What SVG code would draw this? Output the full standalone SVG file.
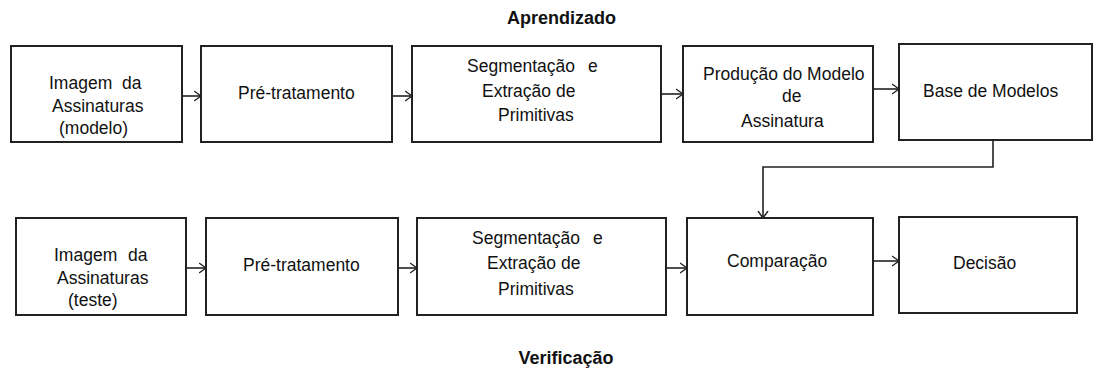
<svg xmlns="http://www.w3.org/2000/svg" width="1093" height="371" viewBox="0 0 1093 371">
<style>
.box{fill:#fff;stroke:#222;stroke-width:2}
.t{font-family:"Liberation Sans",Arial,sans-serif;font-size:17.5px;fill:#111}
.h{font-family:"Liberation Sans",Arial,sans-serif;font-size:18px;font-weight:bold;fill:#111;text-anchor:middle}
.c{fill:none;stroke:#222;stroke-width:1.6}
</style>
<defs>
<marker id="ah" markerUnits="userSpaceOnUse" markerWidth="10" markerHeight="12" refX="7" refY="6" orient="auto">
<path d="M0,1 L7,6 L0,11" fill="none" stroke="#222" stroke-width="1.4"/>
</marker>
</defs>
<rect width="1093" height="371" fill="#fff"/>
<text class="h" x="561.5" y="24">Aprendizado</text>
<text class="h" x="566" y="364">Verificação</text>
<g id="connectors">
<line class="c" x1="182" y1="96" x2="201" y2="96" marker-end="url(#ah)"/>
<line class="c" x1="392" y1="96" x2="412" y2="96" marker-end="url(#ah)"/>
<line class="c" x1="661" y1="94" x2="683" y2="94" marker-end="url(#ah)"/>
<line class="c" x1="873" y1="89" x2="899" y2="89" marker-end="url(#ah)"/>
<polyline class="c" points="993,140 993,167 763,167 763,218" marker-end="url(#ah)"/>
<line class="c" x1="186" y1="268" x2="206" y2="268" marker-end="url(#ah)"/>
<line class="c" x1="398" y1="268" x2="417" y2="268" marker-end="url(#ah)"/>
<line class="c" x1="666" y1="268" x2="687" y2="268" marker-end="url(#ah)"/>
<line class="c" x1="873" y1="261" x2="899" y2="261" marker-end="url(#ah)"/>
</g>
<g id="n1"><rect class="box" x="11" y="46" width="171" height="96"/>
<text class="t" x="49" y="89">Imagem</text><text class="t" x="122" y="89">da</text>
<text class="t" x="52" y="112">Assinaturas</text>
<text class="t" x="59" y="134">(modelo)</text></g>
<g id="n2"><rect class="box" x="201" y="46" width="191" height="96"/>
<text class="t" x="238" y="99">Pré-tratamento</text></g>
<g id="n3"><rect class="box" x="412" y="46" width="249" height="96"/>
<text class="t" x="467" y="72">Segmentação</text><text class="t" x="588" y="72">e</text>
<text class="t" x="482" y="97">Extração de</text>
<text class="t" x="498" y="121">Primitivas</text></g>
<g id="n4"><rect class="box" x="683" y="46" width="190" height="96"/>
<text class="t" x="703" y="80">Produção do Modelo</text>
<text class="t" x="782" y="102">de</text>
<text class="t" x="741" y="127">Assinatura</text></g>
<g id="n5"><rect class="box" x="899" y="44" width="193" height="96"/>
<text class="t" x="923" y="97">Base de Modelos</text></g>
<g id="n6"><rect class="box" x="16" y="218" width="170" height="97"/>
<text class="t" x="54" y="261">Imagem</text><text class="t" x="128" y="261">da</text>
<text class="t" x="57" y="284">Assinaturas</text>
<text class="t" x="68" y="306">(teste)</text></g>
<g id="n7"><rect class="box" x="206" y="218" width="192" height="97"/>
<text class="t" x="243" y="271">Pré-tratamento</text></g>
<g id="n8"><rect class="box" x="417" y="218" width="249" height="97"/>
<text class="t" x="472" y="244">Segmentação</text><text class="t" x="593" y="244">e</text>
<text class="t" x="487" y="269">Extração de</text>
<text class="t" x="498" y="295">Primitivas</text></g>
<g id="n9"><rect class="box" x="687" y="218" width="186" height="97"/>
<text class="t" x="727" y="267">Comparação</text></g>
<g id="n10"><rect class="box" x="899" y="217" width="178" height="96"/>
<text class="t" x="953" y="269">Decisão</text></g>
</svg>
